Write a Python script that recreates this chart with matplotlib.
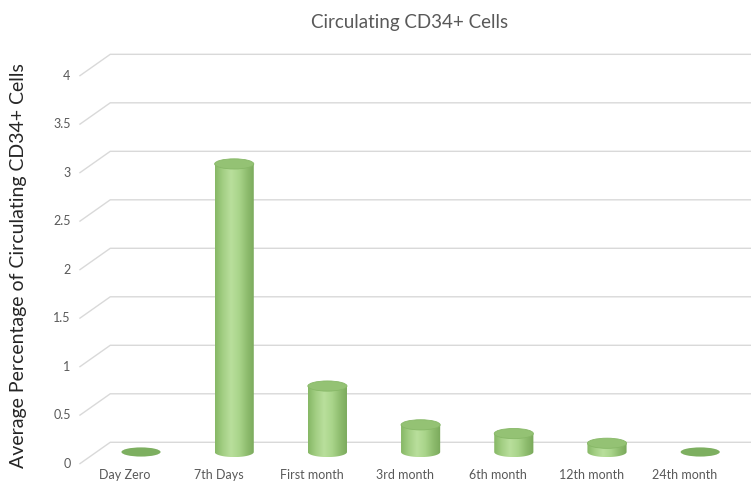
"""Circulating CD34+ cells over follow-up, drawn as Excel-style 3D cylinders."""

import matplotlib

matplotlib.use("Agg")

import matplotlib.pyplot as plt  # noqa: E402
import numpy as np  # noqa: E402
from matplotlib.colors import LinearSegmentedColormap  # noqa: E402
from matplotlib.patches import Ellipse, PathPatch  # noqa: E402
from matplotlib.path import Path  # noqa: E402

plt.rcParams["font.family"] = ["Lato", "DejaVu Sans"]

categories = ["Day Zero", "7th Days", "First month", "3rd month",
              "6th month", "12th month", "24th month"]
values = [0.0, 2.97, 0.68, 0.28, 0.19, 0.09, 0.0]
y_ticks = [0, 0.5, 1, 1.5, 2, 2.5, 3, 3.5, 4]
y_tick_labels = ["0", "0.5", "1", "1.5", "2", "2.5", "3", "3.5", "4"]

TITLE = "Circulating CD34+ Cells"
Y_LABEL = "Average Percentage of Circulating CD34+ Cells"

# floor depth, in value units, from the mid plane to the back wall / front edge
BACK = 0.10
FRONT = -0.12
# wall left edge (back) and axis edge (front), in category units
WALL_X = -0.33
EDGE_X = -0.655

CYL_W = 0.42
CYL_H = 0.105

body_cmap = LinearSegmentedColormap.from_list(
    "cyl", ["#86b765", "#a3cf84", "#b9df9c", "#aad58b", "#8fbd6f", "#79a85a"])
TOP_COLOR = "#94c274"
FLAT_COLOR = "#7daf60"
GRID = "#d9d9d9"
TEXT = "#595959"

fig = plt.figure(figsize=(7.51, 4.87), dpi=100)
ax = fig.add_axes([0, 0, 1, 1])
ax.axis("off")

# back-wall gridlines with their slanted side segment
for t, lab in zip(y_ticks, y_tick_labels):
    ax.plot([EDGE_X, WALL_X, 6.6], [t + FRONT, t + BACK, t + BACK],
            color=GRID, lw=1.0, zorder=1, clip_on=False)
    ax.text(EDGE_X - 0.1, t + FRONT, lab, ha="right", va="center",
            fontsize=9, color=TEXT)

# cylinders: gradient body clipped to a rounded-bottom outline, flat top
grad = np.linspace(0, 1, 256).reshape(1, -1)
theta = np.linspace(0, np.pi, 40)
for i, (cat, v) in enumerate(zip(categories, values)):
    left, right = i - CYL_W / 2, i + CYL_W / 2
    if v > 0:
        bottom = np.column_stack([i + CYL_W / 2 * np.cos(theta),
                                  -CYL_H / 2 * np.sin(theta)])
        verts = np.vstack([[[left, v], [right, v], [right, 0]], bottom,
                           [[left, v]]])
        shape = PathPatch(Path(verts, closed=True), facecolor="none",
                          edgecolor="none")
        ax.add_patch(shape)
        im = ax.imshow(grad, cmap=body_cmap, aspect="auto",
                       extent=[left, right, -CYL_H / 2, v], zorder=3,
                       interpolation="bilinear")
        im.set_clip_path(shape)
        ax.add_patch(Ellipse((i, v), CYL_W, CYL_H, facecolor=TOP_COLOR,
                             edgecolor="#87b867", lw=0.6, zorder=4))
    else:
        ax.add_patch(Ellipse((i, v), CYL_W, CYL_H * 0.9, facecolor=FLAT_COLOR,
                             edgecolor="none", zorder=4))
    ax.text(i - 0.17, -0.18, cat, ha="center", va="top",
            fontsize=9, color=TEXT)

ax.set_xlim(-1.513, 6.545)
ax.set_ylim(-0.361, 4.66)

fig.text(0.545, 0.953, TITLE, ha="center", va="center",
         fontsize=13.5, color=TEXT)
fig.text(0.024, 0.455, Y_LABEL, ha="center", va="center", rotation=90,
         fontsize=14, color="#262626")

fig.savefig("out.png", dpi=100)
